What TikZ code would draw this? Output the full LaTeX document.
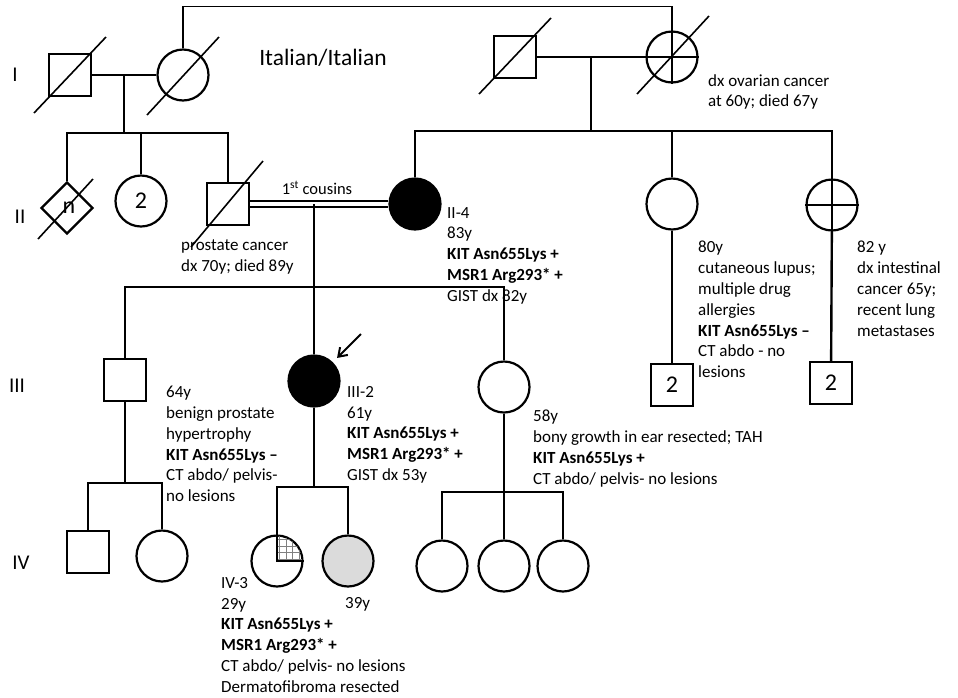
\documentclass[tikz,border=0pt]{standalone}
\usepackage{fontspec}
\setmainfont{Carlito}
\usetikzlibrary{shapes.geometric,arrows.meta}

\tikzset{
  male/.style={rectangle,draw,line width=2.2pt,minimum size=42pt,inner sep=0pt,font=\fontsize{24}{26}\selectfont},
  female/.style={circle,draw,line width=2.2pt,minimum size=51pt,inner sep=0pt,font=\fontsize{24}{26}\selectfont},
  sexunknown/.style={diamond,draw,line width=2.2pt,minimum size=52pt,inner sep=0pt,font=\fontsize{24}{26}\selectfont},
  affected/.style={fill=black},
  info/.style={anchor=north west,align=left,inner sep=0pt,font=\fontsize{17}{20.8}\selectfont},
  gen/.style={inner sep=0pt,font=\fontsize{21}{24}\selectfont},
  thinlink/.style={line width=1.4pt},
  thicklink/.style={line width=2.4pt},
  deceased/.style={line width=1.6pt}
}

\begin{document}
\begin{tikzpicture}[x=1pt,y=-1pt]
  \useasboundingbox (0,0) rectangle (958,697);

  % generations
  \node[gen] (gI)   at (15,75)  {I};
  \node[gen] (gII)  at (20,217) {II};
  \node[gen] (gIII) at (17,386) {III};
  \node[gen] (gIV)  at (21,563) {IV};

  % individuals
  \node[male]   (I1) at (70,75)  {};
  \node[female] (I2) at (183,75) {};
  \node[male]   (I3) at (515,57) {};
  \node[female] (I4) at (672,57) {};

  \node[sexunknown] (II0) at (67,208)  {\hspace{4pt}n};
  \node[female]     (II2) at (141,201) {2};
  \node[male]       (II1) at (228,204) {};
  \node[female,affected] (II4) at (415,204) {};
  \node[female]     (II5) at (672,204) {};
  \node[female]     (II6) at (832,205) {};
  \node[male]       (II5c) at (672,385) {2};
  \node[male]       (II6c) at (831,383) {2};

  \node[male]   (III1) at (125,380) {};
  \node[female,affected] (III2) at (314,381) {};
  \node[female] (III3) at (504,387) {};

  \node[male]   (IV1) at (88,552)  {};
  \node[female] (IV2) at (162,556) {};
  \node[female] (IV3) at (277,561) {};
  \node[female,fill=black!14] (IV4) at (348,561) {};
  \node[female] (IV5) at (442,566) {};
  \node[female] (IV6) at (504,566) {};
  \node[female] (IV7) at (563,566) {};

  % deceased
  \draw[deceased] (I1) ++(-36,38) -- ++(72,-76);
  \draw[deceased] (I2) ++(-36,40) -- ++(72,-78);
  \draw[deceased] (I3) ++(-36,37) -- ++(72,-76);
  \draw[deceased] (I4) ++(-35,37) -- ++(72,-78);
  \draw[deceased] (II0) ++(-29,31) -- ++(55,-60);
  \draw[deceased] (II1) ++(-37,43) -- ++(72,-86);

  % quadrants
  \draw[thicklink] (I4.north) -- (I4.south);
  \draw[thicklink] (I4.west) -- (I4.east);
  \draw[thicklink] (II6.north) -- (II6.south);
  \draw[thicklink] (II6.west) -- (II6.east);
  \begin{scope}
    \clip (IV3.center) circle (25);
    \clip (IV3.center) rectangle ++(30,-30);
    \draw[gray,line width=0.6pt,step=6.5pt] (IV3.center) grid ++(30,-30);
  \end{scope}
  \draw[line width=2.2pt] (IV3.north) -- (IV3.center) -- (IV3.east);

  % junctions
  \coordinate (m1) at (124,75);
  \coordinate (s1) at (124,133);
  \coordinate (m2) at (591,57);
  \coordinate (s2) at (591,131);
  \coordinate (m3) at (314,204);
  \coordinate (s3) at (314,287);
  \coordinate (s4) at (125,483);
  \coordinate (s5) at (314,487);
  \coordinate (s6) at (504,492);

  % lines of descent
  \draw[thinlink] (I2.north) -- ++(0,-42) -| (I4.north);
  \draw[thinlink] (I1) -- (I2);
  \draw[thinlink] (m1) -- (s1);
  \draw[thinlink] (II0) |- (s1) -| (II1);
  \draw[thicklink] (II2.north) -- (II2.north |- s1);

  \draw[thicklink] (I3) -- (I4);
  \draw[thicklink] (m2) -- (s2);
  \draw[thicklink] (II4) |- (s2) -| (II6);
  \draw[thicklink] (II5) -- (II5 |- s2);
  \draw[thicklink] (II5) -- (II5c);
  \draw[thicklink] (II6) -- (II6c);

  \draw[line width=1.4pt,double,double distance=4.6pt] (II1) -- (II4);
  \node[font=\fontsize{16.5}{18}\selectfont] (cous) at (317,188) {1\textsuperscript{st} cousins};
  \draw[thinlink] (m3) -- (s3);
  \draw[thinlink] (III1) |- (s3) -| (III3);
  \draw[thinlink] (s3) -- (III2);

  \draw[thinlink] (III1) -- (s4);
  \draw[thinlink] (IV1) |- (s4) -| (IV2);
  \draw[thicklink] (III2) -- (s5);
  \draw[thinlink] (IV3) |- (s5) -| (IV4);
  \draw[thicklink] (III3) -- (s6);
  \draw[thicklink] (IV5) |- (s6) -| (IV7);
  \draw[thinlink] (s6) -- (IV6);

  % proband
  \coordinate (pb) at (361,334);
  \draw[line width=2pt,-{Straight Barb[length=8pt,width=11pt]},shorten >=6pt] (pb) -- (III2);

  % texts
  \node[font=\fontsize{23.5}{26}\selectfont] (orig) at (323,58) {Italian/Italian};
  \node[info] (tI4)  at (708,74)  {dx ovarian cancer\\at 60y; died 67y};
  \node[info] (tII1) at (181,240) {prostate cancer\\dx 70y; died 89y};
  \node[info] (tII4) at (447,207) {II-4\\83y\\\textbf{KIT Asn655Lys +}\\\textbf{MSR1 Arg293* +}\\GIST dx 82y};
  \node[info] (tII5) at (698,241) {80y\\cutaneous lupus;\\multiple drug\\allergies\\\textbf{KIT Asn655Lys –}\\CT abdo - no\\lesions};
  \node[info] (tII6) at (857,241) {82 y\\dx intestinal\\cancer 65y;\\recent lung\\metastases};
  \node[info] (tIII1) at (166,386) {64y\\benign prostate\\hypertrophy\\\textbf{KIT Asn655Lys –}\\CT abdo/ pelvis-\\no lesions};
  \node[info] (tIII2) at (347,386) {III-2\\61y\\\textbf{KIT Asn655Lys +}\\\textbf{MSR1 Arg293* +}\\GIST dx 53y};
  \node[info] (tIII3) at (533,410) {58y\\bony growth in ear resected; TAH\\\textbf{KIT Asn655Lys +}\\CT abdo/ pelvis- no lesions};
  \node[info] (tIV3) at (221,577) {IV-3\\29y\\\textbf{KIT Asn655Lys +}\\\textbf{MSR1 Arg293* +}\\CT abdo/ pelvis- no lesions\\Dermatofibroma resected};
  \node[info] (tIV4) at (345,597) {39y};

\end{tikzpicture}
\end{document}
